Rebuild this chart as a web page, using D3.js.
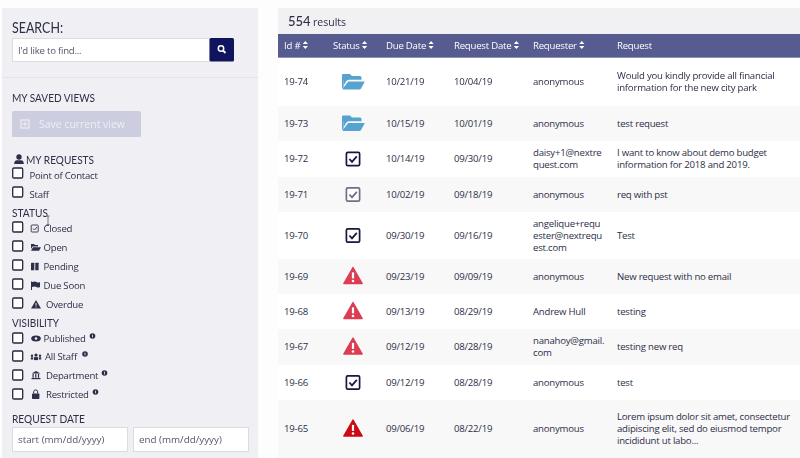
<!DOCTYPE html>
<html><head><meta charset="utf-8">
<script src="https://cdn.jsdelivr.net/npm/d3@7"></script>
<style>
html,body{margin:0;padding:0;background:#fdfdfd;overflow:hidden}
svg{display:block;filter:blur(0.35px)}
text{font-family:"Open Sans",sans-serif;fill:#2d2e47}
.h{font-family:"Lato",sans-serif}
.tight{letter-spacing:-0.22px}
</style></head><body>
<svg id="c" width="800" height="458"></svg>
<script>
// ---- data ----
const resultCount = "554";
const columns = ["Id #","Status","Due Date","Request Date","Requester","Request"];
const sortable = [true,true,true,true,true,false];
const ids = ["19-74","19-73","19-72","19-71","19-70","19-69","19-68","19-67","19-66","19-65"];
const statuses = ["open","open","closed","closedGray","closed","overdue","overdue","overdue","closed","overdueDark"];
const dueDates = ["10/21/19","10/15/19","10/14/19","10/02/19","09/30/19","09/23/19","09/13/19","09/12/19","09/12/19","09/06/19"];
const requestDates = ["10/04/19","10/01/19","09/30/19","09/18/19","09/16/19","09/09/19","08/29/19","08/28/19","08/28/19","08/22/19"];
const requesters = [["anonymous"],["anonymous"],["daisy+1@nextre","quest.com"],["anonymous"],["angelique+requ","ester@nextrequ","est.com"],["anonymous"],["Andrew Hull"],["nanahoy@gmail.","com"],["anonymous"],["anonymous"]];
const requests = [["Would you kindly provide all financial","information for the new city park"],["test request"],["I want to know about demo budget","information for 2018 and 2019."],["req with pst"],["Test"],["New request with no email"],["testing"],["testing new req"],["test"],["Lorem ipsum dolor sit amet, consectetur","adipiscing elit, sed do eiusmod tempor","incididunt ut labo..."]];
const requestFilters = ["Point of Contact","Staff"];
const statusFilters = ["Closed","Open","Pending","Due Soon","Overdue"];
const visibilityFilters = ["Published","All Staff","Department","Restricted"];

// ---- layout ----
const svg = d3.select("#c");
const x = d3.scaleOrdinal(columns,[284,333,386,454,533,617]);
const rowEdges = [58,106,141,177,212,259,294,329,365,400,458];
const top_ = d3.scaleOrdinal(ids,rowEdges.slice(0,-1));
const bot = d3.scaleOrdinal(ids,rowEdges.slice(1));
const cy = id => (top_(id)+bot(id))/2;
const INK="#2d2e47", BODY=9.6, LH=12;

function rect(g,x0,y0,w,h,fill,opt={}){const r=g.append("rect").attr("x",x0).attr("y",y0).attr("width",w).attr("height",h).attr("fill",fill);
  if(opt.r)r.attr("rx",opt.r); if(opt.s)r.attr("stroke",opt.s).attr("stroke-width",opt.sw||1); return r;}
function txt(g,s,x0,y0,size,opt={}){const t=g.append("text").attr("x",x0).attr("y",y0).attr("font-size",size).text(s);
  if(opt.cls)t.attr("class",opt.cls); if(opt.fill)t.style("fill",opt.fill); if(opt.w)t.attr("textLength",opt.w).attr("lengthAdjust","spacingAndGlyphs"); return t;}

// ---- icons (local coordinates) ----
const ICON = {
 folder(g,c,s=1){const k=g.append("g").attr("transform",`translate(${c[0]},${c[1]+1}) scale(${s})`);
  k.append("path").attr("fill","#56a3d0").attr("d","M-11,-8 Q-11,-9 -10,-9 L-3,-9 L-1,-7 L7,-7 Q8.5,-7 8.5,-5.5 L8.5,-3.2 L-4,-3.2 Q-6,-3.2 -7,-1.5 L-9.5,3 L-9.6,-3 L-11,-3Z");
  k.append("path").attr("fill","#56a3d0").attr("d","M-11,-8 L-9.5,-8 L-9.5,5 Q-11,6 -11,4Z");
  k.append("path").attr("fill","#56a3d0").attr("d","M-4.8,-1.6 L11.5,-1.6 Q12,-1.6 11.6,-1 L8,5.5 Q7.6,6.5 6.5,6.5 L-9.8,6.5 Q-10.6,6.5 -10.2,5.6Z");},
 check(g,c,col,s=1){const k=g.append("g").attr("transform",`translate(${c[0]},${c[1]}) scale(${s})`);
  k.append("rect").attr("x",-6.6).attr("y",-6.6).attr("width",13.2).attr("height",13.2).attr("rx",1.4).attr("fill","#fff").attr("stroke",col).attr("stroke-width",1.7);
  k.append("path").attr("d","M-3.6,0 L-1,2.8 L3.8,-2.6").attr("fill","none").attr("stroke",col).attr("stroke-width",1.8);},
 warn(g,c,col,s=1){const k=g.append("g").attr("transform",`translate(${c[0]},${c[1]-0.5}) scale(${s})`);
  k.append("path").attr("fill",col).attr("stroke",col).attr("stroke-width",1.4).attr("stroke-linejoin","round").attr("d","M0,-8.5 L9.2,7.5 L-9.2,7.5Z");
  k.append("rect").attr("x",-1.1).attr("y",-3.6).attr("width",2.2).attr("height",6).attr("fill","#fff");
  k.append("circle").attr("cy",5).attr("r",1.3).attr("fill","#fff");}
};
const statusDraw = {
 open:(g,c)=>ICON.folder(g,c),
 closed:(g,c)=>ICON.check(g,c,"#17183f"),
 closedGray:(g,c)=>ICON.check(g,c,"#6f7088"),
 overdue:(g,c)=>ICON.warn(g,c,"#dc3d52"),
 overdueDark:(g,c)=>ICON.warn(g,c,"#cb0a12")
};

// ---- sidebar ----
const side = svg.append("g");
rect(side,2,8,256,450,"#f0f0f4");
txt(side,"SEARCH:",12,32.5,14.5,{cls:"h",w:51});
rect(side,12.5,38.5,197,23,"#fff",{s:"#dcdce0"});
txt(side,"I'd like to find...",18,54,9.6,{fill:"#55566a"}).attr("class","tight");
rect(side,209.5,38,24.5,23.5,"#10145f",{r:1.5});
side.append("circle").attr("cx",221).attr("cy",48.5).attr("r",2.7).attr("fill","none").attr("stroke","#fff").attr("stroke-width",1.5);
side.append("line").attr("x1",223).attr("y1",50.5).attr("x2",225.5).attr("y2",53).attr("stroke","#fff").attr("stroke-width",1.8);
rect(side,2,77,256,1,"#e3e3e8");
txt(side,"MY SAVED VIEWS",12,102,11.5,{cls:"h",w:83});
rect(side,12,111,129,26,"#cdcde0",{r:1.5});
rect(side,21,120,8,8,"none",{s:"#eeeef5",sw:1.2});
side.append("path").attr("d","M25,121.5V126.5M22.5,124H27.5").attr("stroke","#eeeef5").attr("stroke-width",1);
txt(side,"Save current view",39,128,10.6,{fill:"#eeeef6",w:86});

function box(g,y0){rect(g,12.7,y0,10,10,"#fff",{s:"#26273f",sw:1.3,r:1.2});}
function label(g,s,x0,y0){txt(g,s,x0,y0,9.6).attr("class","tight");}

// my requests
side.append("circle").attr("cx",19).attr("cy",157).attr("r",2.7).attr("fill",INK);
side.append("path").attr("d","M14.2,164 Q14.2,160.2 17,160.2 L21,160.2 Q23.8,160.2 23.8,164Z").attr("fill",INK);
txt(side,"MY REQUESTS",26,164,11.5,{cls:"h",w:68});
const rqY=d3.scaleOrdinal(requestFilters,[168,187]);
requestFilters.forEach(s=>{box(side,rqY(s));label(side,s,29.5,rqY(s)+10.5);});

// status
txt(side,"STATUS",12,217,11.5,{cls:"h",w:36});
const stY=d3.scaleOrdinal(statusFilters,[222,241,260,279,298]);
const stX=d3.scaleOrdinal(statusFilters,[43.5,43.5,43.5,43.5,46]);
statusFilters.forEach(s=>{box(side,stY(s));label(side,s,stX(s),stY(s)+10);});
{ // closed glyph
 const y=stY("Closed")+6.5; rect(side,31.2,y-3.5,7,7,"none",{s:INK,sw:.9,r:.8});
 side.append("path").attr("d",`M33,${y} L34.5,${y+1.5} L37,${y-1.5}`).attr("fill","none").attr("stroke",INK).attr("stroke-width",.9);
 // open glyph
 const o=stY("Open")+6.5; side.append("path").attr("fill",INK).attr("d",`M31,${o-3.5}h3l1,1h3v1.5h-5.5l-1.5,2.5zM33,${o-0.3}h8l-2,3.5h-8z`);
 // pending
 const p=stY("Pending")+6.5; rect(side,31,p-3.8,3.3,7.6,INK,{r:.5}); rect(side,35.3,p-3.8,3.3,7.6,INK,{r:.5});
 // due soon
 const d=stY("Due Soon")+6.5; side.append("path").attr("fill",INK).attr("d",`M31,${d-4}h1v8.5h-1zM32,${d-3.5}q3,-1 4.5,0t3.5,0v5q-2,1 -3.5,0t-4.5,0z`);
 // overdue
 const w=stY("Overdue")+6.5; side.append("path").attr("fill",INK).attr("d",`M36,${w-4.5}L41,${w+4}H31Z`);
 rect(side,35.6,w-1.5,.9,2.8,"#f0f0f4"); rect(side,35.6,w+2,.9,1,"#f0f0f4");
}
// I-beam cursor
side.append("path").attr("d","M46.5,216H49.5M48,216V224.5M46.5,224.5H49.5").attr("stroke","#555").attr("stroke-width",.8).attr("fill","none");

// visibility
txt(side,"VISIBILITY",12,327,11.5,{cls:"h",w:47});
const viY=d3.scaleOrdinal(visibilityFilters,[333,351,370,389]);
const viX=d3.scaleOrdinal(visibilityFilters,[43.5,45,46,46]);
const infoX=d3.scaleOrdinal(visibilityFilters,[92.5,85,104.5,95.5]);
visibilityFilters.forEach(s=>{const y=viY(s);box(side,y);label(side,s,viX(s),y+9);
 side.append("circle").attr("cx",infoX(s)).attr("cy",y+3).attr("r",2.8).attr("fill",INK);
 rect(side,infoX(s)-.4,y+1.6,.8,2.8,"#f0f0f4");});
{ const e=viY("Published")+5.5;
 side.append("ellipse").attr("cx",36).attr("cy",e).attr("rx",4.8).attr("ry",3).attr("fill",INK);
 side.append("circle").attr("cx",36).attr("cy",e).attr("r",1.3).attr("fill","#f0f0f4");
 const a=viY("All Staff")+5.5;
 [[32,a-.8],[40,a-.8],[36,a-1.4]].forEach((c,i)=>{side.append("circle").attr("cx",c[0]).attr("cy",c[1]).attr("r",i==2?1.6:1.2).attr("fill",INK);});
 rect(side,30.8,a+.8,2.4,2.2,INK); rect(side,38.8,a+.8,2.4,2.2,INK); rect(side,34,a+.6,4,3,INK);
 const b=viY("Department")+5.5;
 side.append("path").attr("fill",INK).attr("d",`M36,${b-4.5}L40.5,${b-2}H31.5Z`);
 [32.5,35.2,37.9].forEach(v=>rect(side,v,b-1.5,1.2,3.8,INK));
 rect(side,31.5,b+2.5,9,1.2,INK);
 const l=viY("Restricted")+5.5;
 rect(side,32,l-1,7.4,5.4,INK,{r:.7});
 side.append("path").attr("d",`M33.7,${l-1}V${l-2.6}a2,2 0 0 1 4,0V${l-1}`).attr("fill","none").attr("stroke",INK).attr("stroke-width",1);
}
txt(side,"REQUEST DATE",12,423,11.5,{cls:"h",w:73});
rect(side,12.5,427.5,115,24,"#fff",{s:"#dcdce0"});
rect(side,133.5,427.5,115,24,"#fff",{s:"#dcdce0"});
txt(side,"start (mm/dd/yyyy)",18,443,9.8,{fill:"#55566a"});
txt(side,"end (mm/dd/yyyy)",139,443,9.8,{fill:"#55566a"});

// ---- results table ----
const tbl = svg.append("g");
rect(tbl,278,8,522,26,"#f1f1f3");
txt(tbl,resultCount,288,26,13,{cls:"h"}).style("font-weight",500);
txt(tbl,"results",313,26,10.5);
rect(tbl,278,34,522,23,"#565b90");
rect(tbl,278,57,522,1,"#8f92b5");

const hdr = tbl.selectAll("g.hd").data(columns).join("g").attr("class","hd");
hdr.append("text").attr("class","tight").attr("x",d=>x(d)).attr("y",49).attr("font-size",9.6).style("fill","#fff").text(d=>d);
hdr.filter((d,i)=>sortable[i]).each(function(d){
  const n=d3.select(this), e=x(d)+n.select("text").node().getComputedTextLength()+5;
  n.append("path").attr("fill","#fff").attr("d",`M${e-2.6},44 L${e},41 L${e+2.6},44Z M${e-2.6},46 L${e},49 L${e+2.6},46Z`);
});

const rows = tbl.selectAll("g.r").data(ids).join("g").attr("class","r");
rows.append("rect").attr("x",278).attr("width",522).attr("y",d=>top_(d)).attr("height",d=>bot(d)-top_(d))
  .attr("fill",(d,i)=>i%2?"#f8f8f9":"#fff");
const base = id => cy(id)+3.4;
function col(name,values){
  rows.append("text").attr("class","tight").attr("x",x(name)).attr("y",d=>base(d)).attr("font-size",BODY).text((d,i)=>values[i]);
}
col("Id #",ids); col("Due Date",dueDates); col("Request Date",requestDates);
function multi(name,values){
  rows.each(function(d,i){
    const ls=values[i], y0=base(d)-(ls.length-1)*LH/2;
    const t=d3.select(this).append("text").attr("class","tight").attr("font-size",BODY);
    ls.forEach((s,j)=>t.append("tspan").attr("x",x(name)).attr("y",y0+j*LH).text(s));
  });
}
multi("Requester",requesters); multi("Request",requests);
rows.each(function(d,i){statusDraw[statuses[i]](d3.select(this),[353,cy(d)]);});
</script></body></html>
